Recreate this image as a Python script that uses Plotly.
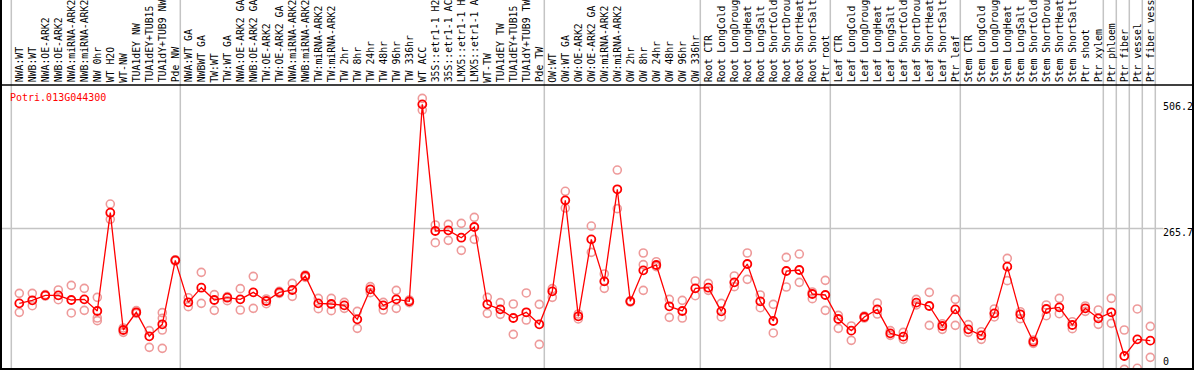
import plotly.graph_objects as go

gene = "Potri.013G044300"

categories = [
    "NWA:WT", "NWB:WT", "NWA:OE-ARK2", "NWB:OE-ARK2", "NWA:miRNA-ARK2", "NWB:miRNA-ARK2",
    "NW 0hr", "WT H2O", "WT-NW", "TUA1dEY NW", "TUA1dEY+TUB15", "TUA1dY+TUB9 NW", "Pde NW",
    "NWA:WT GA", "NWBWT GA", "TW:WT", "TW:WT GA", "NWA:OE-ARK2 GA", "NWB:OE-ARK2 GA",
    "TW:OE-ARK2", "TW:OE-ARK2 GA", "NWA:miRNA-ARK2", "NWB:miRNA-ARK2", "TW:miRNA-ARK2",
    "TW:miRNA-ARK2", "TW 2hr", "TW 8hr", "TW 24hr", "TW 48hr", "TW 96hr", "TW 336hr",
    "WT ACC", "35S::etr1-1 H2", "35S::etr1-1 AC", "LMX5::etr1-1 H", "LMX5::etr1-1 A",
    "WT-TW", "TUA1dEY TW", "TUA1dEY+TUB15", "TUA1dY+TUB9 TW", "Pde TW",
    "OW:WT", "OW:WT GA", "OW:OE-ARK2", "OW:OE-ARK2 GA", "OW:miRNA-ARK2", "OW:miRNA-ARK2",
    "OW 2hr", "OW 8hr", "OW 24hr", "OW 48hr", "OW 96hr", "OW 336hr",
    "Root CTR", "Root LongCold", "Root LongDroug", "Root LongHeat", "Root LongSalt",
    "Root ShortCold", "Root ShortDrou", "Root ShortHeat", "Root ShortSalt", "Ptr root",
    "Leaf CTR", "Leaf LongCold", "Leaf LongDroug", "Leaf LongHeat", "Leaf LongSalt",
    "Leaf ShortCold", "Leaf ShortDrou", "Leaf ShortHeat", "Leaf ShortSalt", "Ptr leaf",
    "Stem CTR", "Stem LongCold", "Stem LongDroug", "Stem LongHeat", "Stem LongSalt",
    "Stem ShortCold", "Stem ShortDrou", "Stem ShortHeat", "Stem ShortSalt", "Ptr shoot",
    "Ptr xylem", "Ptr phloem", "Ptr fiber", "Ptr vessel", "Ptr fiber vess",
]

means = [
    127.0, 132.6, 141.8, 141.8, 133.2, 134.4, 112.9, 294.8, 77.7, 110.4,
    66.0, 88.2, 206.6, 128.9, 156.0, 133.2, 137.5, 134.4, 147.4, 131.4,
    147.4, 151.7, 177.6, 127.0, 125.8, 123.3, 97.4, 152.9, 123.3, 134.4,
    130.7, 495.2, 260.9, 262.1, 248.5, 268.3, 125.2, 115.9, 99.9, 110.4,
    88.2, 149.2, 317.6, 103.0, 245.4, 167.7, 338.0, 130.7, 188.1, 198.0,
    121.5, 112.9, 154.8, 156.0, 112.2, 165.9, 199.8, 130.7, 94.4, 186.9,
    188.7, 144.3, 142.5, 98.1, 76.5, 101.8, 115.9, 71.5, 65.4, 128.3,
    122.1, 85.1, 115.9, 78.9, 67.8, 108.5, 194.9, 106.7, 56.1, 116.6,
    119.6, 87.0, 117.8, 99.3, 110.4, 29.6, 60.4, 58.0,
]

replicates = [
    [145.5, 110.4], [145.5, 122.7], [143.1, 140.6], [151.7, 133.8], [160.3, 109.2],
    [154.8, 114.1], [138.1, 99.9, 95.0], [310.8, 282.4], [81.4, 73.4], [113.5, 108.5],
    [76.5, 45.6], [109.8, 99.3, 77.7, 43.8], [207.8, 205.4], [137.5, 120.9], [184.4, 127.0],
    [143.1, 114.1], [139.4, 132.0], [154.2, 114.7], [177.0, 117.8], [135.1, 126.4],
    [149.2, 145.5], [164.0, 140.0], [179.5, 175.1], [136.3, 117.2], [136.3, 113.5],
    [128.9, 117.8], [112.2, 80.8], [157.9, 146.8], [128.9, 114.7], [151.1, 117.8],
    [133.2, 128.3], [506.2, 484.7], [272.0, 239.3], [273.2, 243.6], [275.0, 225.1],
    [286.1, 245.4], [138.1, 108.5], [128.3, 106.7], [125.8, 69.7], [146.2, 96.2],
    [125.2, 51.2], [154.2, 138.1], [334.3, 303.4], [107.3, 98.1], [270.1, 221.4],
    [181.3, 154.8], [373.7, 302.2], [132.0, 129.5], [220.2, 198.6, 151.1], [204.1, 194.9],
    [134.4, 101.1], [132.6, 99.9], [168.4, 141.2], [164.0, 151.1], [127.0, 101.8],
    [177.6, 157.9], [220.2, 171.4], [142.5, 119.0], [125.2, 72.2], [212.1, 157.3],
    [218.3, 165.9], [148.0, 135.7], [169.6, 114.1], [104.8, 80.8], [85.1, 58.6],
    [103.6, 99.9], [127.7, 107.3], [76.5, 67.8], [73.4, 60.4], [134.4, 124.0],
    [147.4, 86.3], [89.4, 78.9], [134.4, 86.3], [87.6, 73.4], [74.6, 60.4],
    [116.6, 101.8], [210.3, 169.0], [111.6, 98.7], [59.2, 53.0], [124.0, 104.2],
    [136.3, 107.9], [93.1, 80.2], [122.1, 112.2], [114.7, 88.2], [136.3, 90.0],
    [77.7, 4.9], [116.6, 6.8], [84.5, 27.1],
]

# indices (count of categories) after which a group separator is drawn
group_breaks = [0, 13, 41, 53, 63, 73, 84, 85, 86, 87, 88]
y_ticks = [506.2, 265.7, 0]

W, H = 1194, 370
PX_PER_CAT = 13.0
X0 = -19.3 / PX_PER_CAT
X1 = X0 + W / PX_PER_CAT
Y_RANGE = [3.7, 688.3]
FONT = "DejaVu Sans Mono"
HEADER_PX = 85

idx = list(range(len(categories)))
rep_x, rep_y = [], []
for i, reps in enumerate(replicates):
    for v in reps:
        rep_x.append(i)
        rep_y.append(v)

fig = go.Figure()
fig.add_trace(go.Scatter(
    x=rep_x, y=rep_y, mode="markers",
    marker=dict(symbol="circle-open", size=8, color="#EE9A9A", line=dict(width=1.6)),
    hoverinfo="skip", showlegend=False,
))
fig.add_trace(go.Scatter(
    x=idx, y=means, mode="lines+markers",
    line=dict(color="#FF0000", width=1.3),
    marker=dict(symbol="circle-open", size=8, color="#FF0000", line=dict(width=1.8)),
    text=categories, showlegend=False,
))

shapes = []
for b in group_breaks:
    xv = b - 1 + 5 / PX_PER_CAT
    shapes.append(dict(type="line", xref="x", yref="paper", x0=xv, x1=xv, y0=0, y1=1,
                       line=dict(color="#C4C4C4", width=1.5), layer="below"))
# horizontal grid line at middle tick
shapes.append(dict(type="line", xref="paper", yref="y", x0=0, x1=1163 / W, y0=y_ticks[1], y1=y_ticks[1],
                   line=dict(color="#C4C4C4", width=1.5), layer="below"))
# header separator
hy = 1 - HEADER_PX / H
shapes.append(dict(type="line", xref="paper", yref="paper", x0=0, x1=1, y0=hy, y1=hy,
                   line=dict(color="black", width=1.5)))
# border
shapes.append(dict(type="line", xref="paper", yref="paper", x0=1 / W, x1=1 / W, y0=0, y1=1,
                   line=dict(color="black", width=2)))
shapes.append(dict(type="line", xref="paper", yref="paper", x0=1 - 1 / W, x1=1 - 1 / W, y0=0, y1=1,
                   line=dict(color="black", width=2)))
shapes.append(dict(type="line", xref="paper", yref="paper", x0=0, x1=1, y0=1 / H, y1=1 / H,
                   line=dict(color="black", width=2)))

annotations = []
label_y = 1 - 83.5 / H
for i, lab in enumerate(categories):
    annotations.append(dict(x=i, xref="x", y=label_y, yref="paper", text=lab, textangle=-90,
                            showarrow=False, xanchor="center", yanchor="bottom", borderpad=0,
                            font=dict(family=FONT, size=9.8, color="black")))
annotations.append(dict(x=9 / W, xref="paper", y=1 - 97 / H, yref="paper", text=gene,
                        showarrow=False, xanchor="left", yanchor="middle", borderpad=0,
                        font=dict(family=FONT, size=10, color="#FF0000")))
tick_px = [106.7, 232.7, 361.7]
for v, py in zip(y_ticks, tick_px):
    annotations.append(dict(x=1162 / W, xref="paper", y=1 - py / H, yref="paper",
                            text=f"{v:g}" if v == 0 else f"{v:.1f}",
                            showarrow=False, xanchor="left", yanchor="middle", borderpad=0,
                            font=dict(family=FONT, size=10, color="black")))

fig.update_layout(
    width=W, height=H, margin=dict(l=0, r=0, t=0, b=0),
    paper_bgcolor="white", plot_bgcolor="white",
    xaxis=dict(range=[X0, X1], visible=False, fixedrange=True),
    yaxis=dict(range=Y_RANGE, visible=False, fixedrange=True),
    shapes=shapes, annotations=annotations, showlegend=False,
)
fig.write_html("out.html", config={"displayModeBar": False},
               post_script="document.body.style.margin='0';document.body.style.overflow='hidden';")
